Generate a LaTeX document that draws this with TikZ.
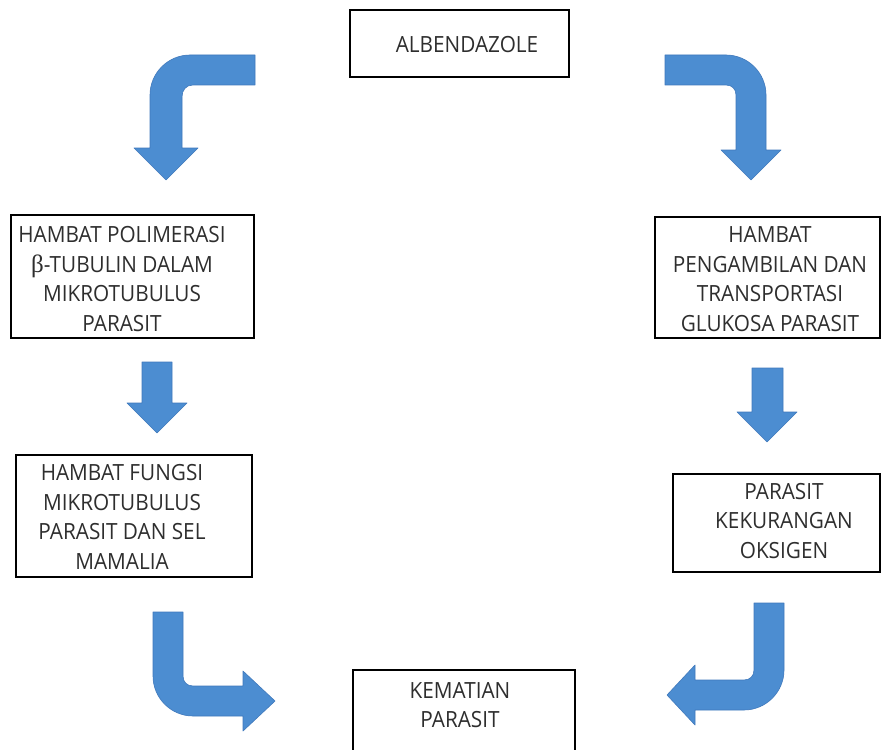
\documentclass[tikz,border=0pt]{standalone}
\usepackage{fontspec}
\setmainfont{Open Sans}[FakeStretch=0.93]
\newfontfamily\betafont{Liberation Serif}
\definecolor{arrowblue}{HTML}{4C8DD1}
\definecolor{arrowedge}{HTML}{4079BC}
\definecolor{txtcol}{HTML}{2E2E2E}
\tikzset{
  box/.style={draw=black, line width=1.6pt, fill=white, inner sep=0pt},
  txt/.style={align=center, text=txtcol, inner sep=0pt, font=\fontsize{22.3}{29.5}\selectfont},
  blockarrow/.style={fill=arrowblue, draw=arrowedge, line width=0.6pt, line join=round}
}
\begin{document}
\begin{tikzpicture}[x=1pt,y=-1pt]
\useasboundingbox (0,0) rectangle (882,749);
\clip (0,0) rectangle (882,749);
\fill[white] (0,0) rectangle (882,749);

% boxes
\node[box, minimum width=219pt, minimum height=67pt] (alb) at (459.5,43.5) {};
\node[txt] (albt) at (467,45) {ALBENDAZOLE};

\node[box, minimum width=243pt, minimum height=123pt] (b1) at (132.5,276.5) {};
\node[txt] (b1t) at (122,279) {HAMBAT POLIMERASI\\{\betafont\fontsize{25}{29.5}\selectfont β}-TUBULIN DALAM\\MIKROTUBULUS\\PARASIT};

\node[box, minimum width=225pt, minimum height=121pt] (b2) at (767.5,277.5) {};
\node[txt] (b2t) at (770,279) {HAMBAT\\PENGAMBILAN DAN\\TRANSPORTASI\\GLUKOSA PARASIT};

\node[box, minimum width=236pt, minimum height=122pt] (b3) at (134,516) {};
\node[txt] (b3t) at (122,517) {HAMBAT FUNGSI\\MIKROTUBULUS\\PARASIT DAN SEL\\MAMALIA};

\node[box, minimum width=207pt, minimum height=98pt] (b4) at (776.5,523) {};
\node[txt] (b4t) at (784,521) {PARASIT\\KEKURANGAN\\OKSIGEN};

\node[box, minimum width=222pt, minimum height=90pt] (b5) at (464,715) {};
\node[txt] (b5t) at (460,705) {KEMATIAN\\PARASIT};

% block arrows
% top-left: left then down
\path[blockarrow] (255,55) -- (190,55) .. controls (168,55) and (150,73) .. (150,95)
  -- (150,148) -- (134,148) -- (166,180) -- (198,148) -- (182,148) -- (182,97)
  .. controls (182,90) and (186,85) .. (193,85) -- (255,85) -- cycle;
% top-right: right then down
\path[blockarrow] (665,55) -- (726,55) .. controls (748,55) and (766,73) .. (766,95)
  -- (766,150) -- (781,150) -- (751,180) -- (721,150) -- (736,150) -- (736,95)
  .. controls (736,89) and (732,85) .. (726,85) -- (665,85) -- cycle;
% straight left
\path[blockarrow] (142,362) -- (172,362) -- (172,403) -- (187,403) -- (157,433)
  -- (127,403) -- (142,403) -- cycle;
% straight right
\path[blockarrow] (752,368) -- (783,368) -- (783,412) -- (797,412) -- (767,442)
  -- (737,412) -- (752,412) -- cycle;
% bottom-left: down then right
\path[blockarrow] (153,612) -- (183,612) -- (183,676) .. controls (183,682) and (187,686) .. (193,686)
  -- (243,686) -- (243,671) -- (275,701) -- (243,731) -- (243,716) -- (193,716)
  .. controls (171,716) and (153,698) .. (153,676) -- cycle;
% bottom-right: down then left
\path[blockarrow] (754,603) -- (784,603) -- (784,670) .. controls (784,692) and (766,710) .. (744,710)
  -- (695,710) -- (695,725) -- (667,695) -- (695,665) -- (695,680) -- (744,680)
  .. controls (750,680) and (754,676) .. (754,670) -- cycle;
\end{tikzpicture}
\end{document}
